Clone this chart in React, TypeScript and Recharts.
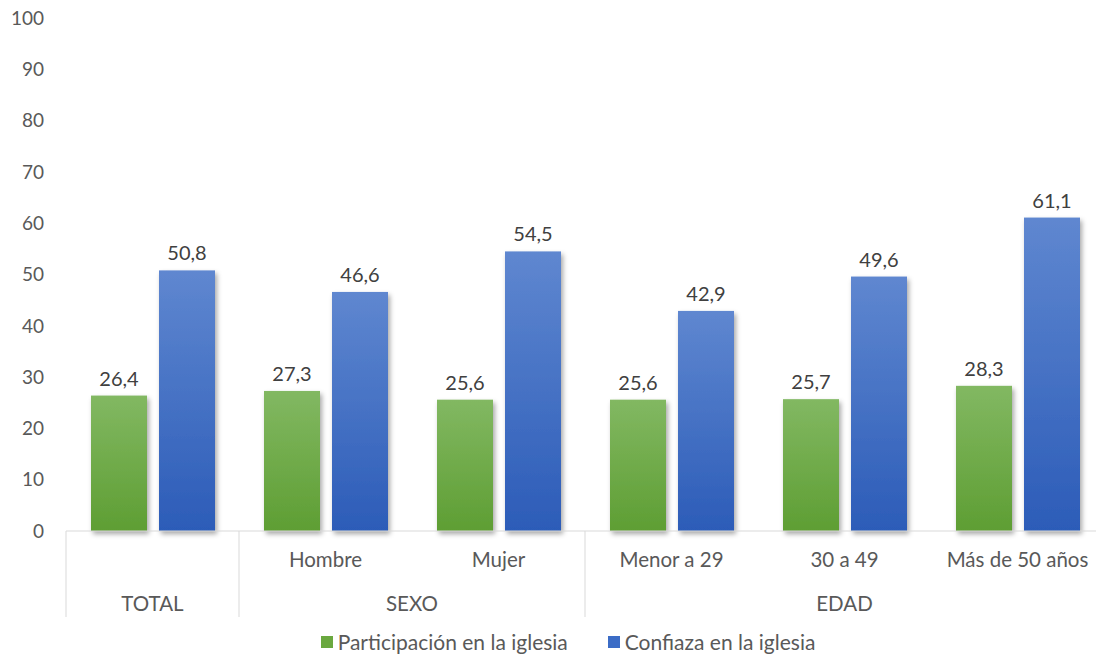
import { BarChart, Bar, XAxis, YAxis, LabelList, Legend } from 'recharts';

const subLabels = ['', 'Hombre', 'Mujer', 'Menor a 29', '30 a 49', 'Más de 50 años'];
const groups = ['TOTAL', 'SEXO', 'SEXO', 'EDAD', 'EDAD', 'EDAD'];
const participacion = [26.4, 27.3, 25.6, 25.6, 25.7, 28.3];
const confianza = [50.8, 46.6, 54.5, 42.9, 49.6, 61.1];
const yTicks = [0, 10, 20, 30, 40, 50, 60, 70, 80, 90, 100];

const seriesNames = ['Participación en la iglesia', 'Confiaza en la iglesia'];
const seriesColors = ['#6aa83f', '#3b6cc6'];

const data = subLabels.map((label, i) => ({
  key: `${groups[i]}-${i}`,
  label,
  group: groups[i],
  participacion: participacion[i],
  confianza: confianza[i],
}));

const FONT = 'Lato, "Open Sans", sans-serif';
const TEXT = '#595959';

const fmt = (v: any) => Number(v).toFixed(1).replace('.', ',');

// two-row category axis: sub label on top, group label + divider below
function CategoryTick(props: any) {
  const { x, y, payload } = props;
  const i = payload.index;
  const half = payload.offset || 86.5;
  const first = i === 0 || groups[i - 1] !== groups[i];
  let count = 0;
  if (first) {
    while (groups[i + count] === groups[i]) count++;
  }
  const left = x - half;
  return (
    <g>
      <text x={x} y={y + 36} textAnchor="middle" fill={TEXT} fontSize={20.5} fontFamily={FONT}>
        {subLabels[i]}
      </text>
      {first && (
        <>
          <line x1={left} y1={y} x2={left} y2={y + 86} stroke="#d9d9d9" strokeWidth={1} />
          <text
            x={left + count * half}
            y={y + 80}
            textAnchor="middle"
            fill={TEXT}
            fontSize={20.5}
            fontFamily={FONT}
          >
            {groups[i]}
          </text>
        </>
      )}
    </g>
  );
}

function ShadowBar(props: any) {
  const { x, y, width, height, fill } = props;
  return <rect x={x} y={y} width={width} height={height} fill={fill} filter="url(#barShadow)" />;
}

function LegendContent() {
  return (
    <div
      style={{
        display: 'flex',
        justifyContent: 'center',
        gap: 40,
        fontFamily: FONT,
        fontSize: 21,
        color: TEXT,
        height: 35,
        paddingTop: 10,
        paddingLeft: 32,
        boxSizing: 'border-box',
        lineHeight: '22px',
      }}
    >
      {seriesNames.map((n, i) => (
        <div key={n} style={{ display: 'flex', alignItems: 'center' }}>
          <span
            style={{
              display: 'inline-block',
              width: 12,
              height: 12,
              marginRight: 5,
              background: seriesColors[i],
            }}
          />
          {n}
        </div>
      ))}
    </div>
  );
}

export default function App() {
  return (
    <div
      style={{
        position: 'absolute',
        left: 0,
        top: 0,
        width: 1096,
        height: 654,
        overflow: 'hidden',
        background: '#fff',
      }}
    >
      <BarChart
        width={1104}
        height={654}
        data={data}
        margin={{ top: 18, right: 0, bottom: 0, left: 0 }}
        barCategoryGap={25}
        barGap={12}
      >
        <defs>
          <linearGradient id="gGreen" x1="0" y1="0" x2="0" y2="1">
            <stop offset="0%" stopColor="#82b862" />
            <stop offset="100%" stopColor="#5e9e33" />
          </linearGradient>
          <linearGradient id="gBlue" x1="0" y1="0" x2="0" y2="1">
            <stop offset="0%" stopColor="#5f87d0" />
            <stop offset="100%" stopColor="#2c5cb8" />
          </linearGradient>
          <filter id="barShadow" x="-20%" y="-10%" width="140%" height="130%">
            <feDropShadow dx="2" dy="3" stdDeviation="2.5" floodColor="#000" floodOpacity="0.35" />
          </filter>
        </defs>
        <XAxis
          dataKey="key"
          height={88}
          axisLine={{ stroke: '#d9d9d9' }}
          tickLine={false}
          tickSize={0}
          tickMargin={0}
          interval={0}
          tick={<CategoryTick />}
        />
        <YAxis
          domain={[0, 100]}
          ticks={yTicks}
          width={66}
          axisLine={false}
          tickLine={false}
          tickSize={0}
          tickMargin={22}
          tick={{ fill: TEXT, fontSize: 19, fontFamily: FONT }}
        />
        <Legend verticalAlign="bottom" height={35} content={<LegendContent />} />
        <Bar
          dataKey="participacion"
          name={seriesNames[0]}
          fill="url(#gGreen)"
          shape={<ShadowBar />}
          isAnimationActive={false}
        >
          <LabelList
            dataKey="participacion"
            position="top"
            offset={10}
            formatter={fmt}
            style={{ fill: '#404040', fontSize: 20, fontFamily: FONT }}
          />
        </Bar>
        <Bar
          dataKey="confianza"
          name={seriesNames[1]}
          fill="url(#gBlue)"
          shape={<ShadowBar />}
          isAnimationActive={false}
        >
          <LabelList
            dataKey="confianza"
            position="top"
            offset={10}
            formatter={fmt}
            style={{ fill: '#404040', fontSize: 20, fontFamily: FONT }}
          />
        </Bar>
      </BarChart>
    </div>
  );
}
